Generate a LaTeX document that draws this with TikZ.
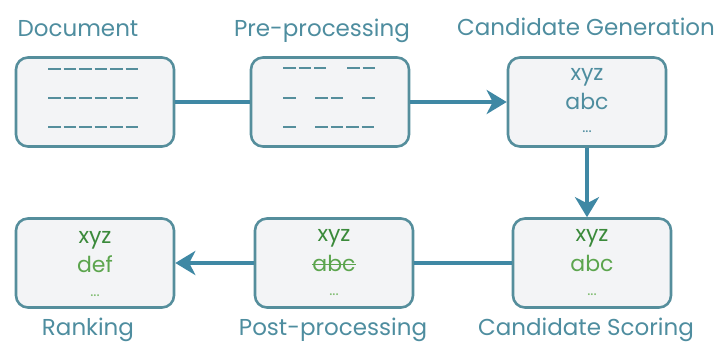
\documentclass[tikz,border=0pt]{standalone}
\usepackage{fontspec}
\setmainfont{Poppins}
\usetikzlibrary{arrows.meta}
\definecolor{tealbd}{HTML}{558E9C}
\definecolor{tealtx}{HTML}{4E8D9F}
\definecolor{arrowc}{HTML}{3F88A4}
\definecolor{boxfill}{HTML}{F3F4F6}
\definecolor{gdark}{HTML}{3B8A3B}
\definecolor{glight}{HTML}{5CA54E}
\definecolor{gdots}{HTML}{7DBB6E}
\begin{document}
\begin{tikzpicture}[x=1pt,y=-1pt,
  box/.style={draw=tealbd,fill=boxfill,line width=2.6pt,rounded corners=12pt,minimum width=158pt,minimum height=89pt,inner sep=0pt},
  lbl/.style={text=tealtx,font=\fontsize{23}{26}\selectfont,inner sep=0pt},
  btxt/.style={font=\fontsize{22}{24}\selectfont,inner sep=0pt},
  bdots/.style={font=\fontsize{15}{16}\selectfont,inner sep=0pt},
  conn/.style={draw=arrowc,line width=4.5pt},
  arr/.style={conn,-{Stealth[length=20pt,width=24pt,inset=6pt]}},
  dsh/.style={draw=tealbd,line width=2.4pt,dash pattern=on 12.5pt off 3pt}]
\useasboundingbox (0,0) rectangle (723,344);
% boxes
\node[box] (doc) at (95,102) {};
\node[box] (pre) at (330,102) {};
\node[box] (gen) at (587,102) {};
\node[box] (sco) at (592,263) {};
\node[box] (post) at (334,263) {};
\node[box] (rank) at (95,263) {};
% labels
\node[lbl,anchor=base] (ldoc) at (78,37) {Document};
\node[lbl,anchor=base] (lpre) at (322,37) {Pre-processing};
\node[lbl,anchor=base] (lgen) at (586,36) {Candidate Generation};
\node[lbl,anchor=base] (lrank) at (88,336) {Ranking};
\node[lbl,anchor=base] (lpost) at (333,336) {Post-processing};
\node[lbl,anchor=base] (lsco) at (586,336) {Candidate Scoring};
% document dashes
\coordinate (d1a) at (48,69);  \coordinate (d1b) at (140,69);
\coordinate (d2a) at (48,98);  \coordinate (d2b) at (140,98);
\coordinate (d3a) at (48,127); \coordinate (d3b) at (140,127);
\draw[dsh] (d1a) -- (d1b);
\draw[dsh] (d2a) -- (d2b);
\draw[dsh] (d3a) -- (d3b);
% pre-processing dashes
\coordinate (p1a) at (283,68); \coordinate (p1b) at (326,68);
\coordinate (p1c) at (347,68); \coordinate (p1d) at (375,68);
\coordinate (p2a) at (283,98); \coordinate (p2b) at (296,98);
\coordinate (p2c) at (315,98); \coordinate (p2d) at (343,98);
\coordinate (p2e) at (362,98); \coordinate (p2f) at (375,98);
\coordinate (p3a) at (283,127); \coordinate (p3b) at (296,127);
\coordinate (p3c) at (315,127); \coordinate (p3d) at (375,127);
\draw[dsh] (p1a) -- (p1b);
\draw[dsh] (p1c) -- (p1d);
\draw[dsh] (p2a) -- (p2b);
\draw[dsh] (p2c) -- (p2d);
\draw[dsh] (p2e) -- (p2f);
\draw[dsh] (p3a) -- (p3b);
\draw[dsh] (p3c) -- (p3d);
% generation content
\node[btxt,text=tealtx] (g1) at (587,77) {xyz};
\node[btxt,text=tealtx] (g2) at (587,101) {abc};
\node[bdots,text=tealtx] (g3) at (587,132) {...};
% scoring content
\node[btxt,text=gdark] (s1) at (592,238) {xyz};
\node[btxt,text=glight] (s2) at (592,263) {abc};
\node[bdots,text=gdots] (s3) at (592,295) {...};
% post content
\node[btxt,text=gdark] (q1) at (334,238) {xyz};
\node[btxt,text=glight] (q2) at (334,263) {abc};
\draw[glight,line width=1.5pt] ([yshift=-1.5pt]q2.west) -- ([yshift=-1.5pt]q2.east);
\node[bdots,text=gdots] (q3) at (334,295) {...};
% ranking content
\node[btxt,text=gdark] (r1) at (95,240) {xyz};
\node[btxt,text=glight] (r2) at (95,264) {def};
\node[bdots,text=gdots] (r3) at (95,296) {...};
% connectors
\draw[conn] (doc.east) -- (pre.west);
\draw[arr] (pre.east) -- (gen.west);
\draw[arr] (gen.south) -- (gen.south |- sco.north);
\draw[conn] (sco.west) -- (sco.west -| post.east);
\draw[arr] (post.west) -- (post.west -| rank.east);
\end{tikzpicture}
\end{document}
